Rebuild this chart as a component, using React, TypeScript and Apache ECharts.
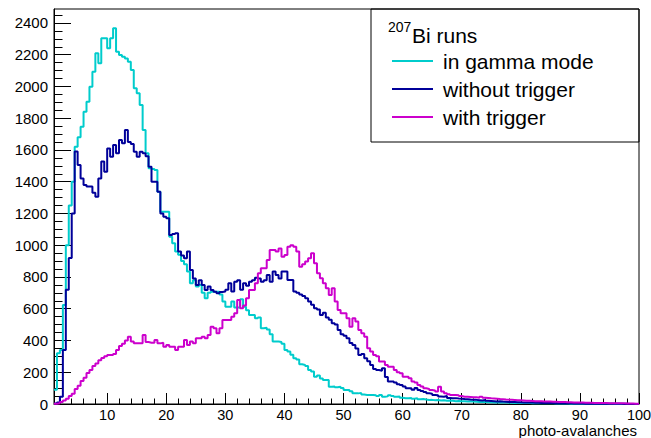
import React, { useEffect, useRef } from "react";
import * as echarts from "echarts";

// Histogram binning (photo-avalanches)
const binStart = 1;
const binWidth = 0.5;

// 207Bi runs, in gamma mode (bins of 0.5 from 1 to 100)
const gammaMode = [
  90, 320, 340, 624, 1000, 1250, 1400, 1620, 1680, 1747,
  1841, 1904, 1999, 2093, 2209, 2146, 2303, 2303, 2240, 2303,
  2366, 2219, 2198, 2188, 2177, 2156, 2104, 1989, 1957, 1883,
  1726, 1579, 1485, 1480, 1474, 1337, 1211, 1211, 1211, 1054,
  1012, 960, 940, 900, 880, 834, 760, 780, 740, 750,
  700, 666, 700, 707, 707, 707, 690, 645, 613, 613,
  645, 608, 608, 660, 613, 590, 561, 561, 540, 545,
  477, 480, 470, 440, 393, 393, 390, 380, 340, 330,
  310, 288, 280, 250, 246, 240, 214, 205, 172, 180,
  160, 151, 151, 109, 110, 105, 109, 100, 88, 88,
  80, 67, 67, 70, 60, 57, 57, 57, 55, 50,
  57, 46, 48, 55, 50, 45, 47, 40, 36, 36,
  38, 33, 36, 30, 32, 28, 25, 26, 24, 25,
  22, 24, 20, 22, 20, 18, 19, 17, 18, 16,
  17, 15, 14, 13, 14, 12, 11, 12, 10, 11,
  9, 10, 9, 8, 8, 7, 8, 7, 6, 7,
  6, 5, 6, 5, 5, 4, 5, 4, 4, 3,
  4, 3, 3, 3, 2, 3, 2, 2, 2, 2,
  1, 2, 1, 1, 1, 1, 1, 1, 1, 0,
  1, 0, 1, 0, 0, 0, 0, 0,
];

// 207Bi runs, without trigger
const withoutTrigger = [
  3, 10, 45, 340, 720, 920, 1200, 1590, 1505, 1420,
  1380, 1370, 1370, 1330, 1306, 1421, 1527, 1463, 1610, 1558,
  1632, 1579, 1663, 1642, 1726, 1650, 1637, 1589, 1558, 1589,
  1579, 1560, 1495, 1400, 1400, 1337, 1200, 1180, 1170, 1065,
  1070, 1075, 960, 935, 918, 960, 844, 790, 750, 780,
  750, 718, 740, 718, 707, 697, 705, 708, 720, 760,
  708, 770, 780, 720, 760, 745, 770, 780, 795, 790,
  770, 780, 813, 770, 834, 813, 790, 834, 834, 781,
  781, 708, 700, 690, 680, 666, 645, 625, 603, 595,
  561, 575, 545, 530, 508, 500, 466, 440, 430, 414,
  385, 372, 350, 309, 315, 288, 270, 246, 220, 214,
  210, 225, 170, 141, 141, 135, 125, 120, 110, 99,
  99, 90, 100, 88, 82, 75, 67, 65, 57, 55,
  47, 46, 50, 38, 36, 37, 34, 33, 31, 30,
  28, 27, 26, 24, 22, 25, 20, 19, 18, 16,
  17, 15, 14, 13, 12, 12, 11, 11, 10, 10,
  9, 9, 8, 8, 7, 7, 6, 6, 6, 5,
  5, 5, 4, 4, 4, 3, 3, 3, 3, 2,
  2, 2, 2, 2, 1, 1, 1, 1, 1, 1,
  1, 1, 0, 1, 0, 0, 0, 0,
];

// 207Bi runs, with trigger
const withTrigger = [
  2, 5, 12, 22, 33, 50, 65, 95, 115, 145,
  165, 195, 214, 240, 255, 275, 290, 300, 309, 309,
  315, 340, 365, 380, 400, 424, 393, 382, 382, 382,
  435, 390, 386, 386, 403, 382, 386, 361, 372, 361,
  361, 340, 361, 361, 403, 372, 393, 382, 414, 414,
  424, 414, 435, 487, 477, 445, 477, 529, 529, 529,
  550, 571, 655, 603, 620, 666, 718, 718, 760, 823,
  855, 855, 907, 970, 970, 960, 980, 928, 939, 991,
  1000, 991, 960, 865, 880, 897, 918, 949, 886, 823,
  792, 760, 729, 687, 729, 645, 592, 571, 571, 540,
  487, 540, 519, 466, 445, 424, 351, 330, 309, 300,
  267, 267, 246, 235, 235, 214, 200, 193, 172, 172,
  162, 141, 135, 120, 110, 99, 95, 88, 85, 78,
  109, 78, 67, 62, 57, 57, 55, 50, 46, 46,
  44, 42, 42, 40, 46, 40, 38, 36, 35, 33,
  31, 30, 28, 27, 26, 25, 24, 23, 22, 21,
  20, 19, 18, 18, 17, 16, 15, 15, 14, 14,
  13, 12, 12, 11, 11, 10, 10, 9, 9, 8,
  8, 8, 7, 7, 6, 6, 6, 5, 5, 5,
  4, 4, 4, 3, 3, 3, 2, 2,
];

const seriesNames = ["in gamma mode", "without trigger", "with trigger"];
const seriesColors = ["#00CCCC", "#000099", "#CC00CC"];

const xTickLabels = [10, 20, 30, 40, 50, 60, 70, 80, 90, 100];
const yTickLabels = [0, 200, 400, 600, 800, 1000, 1200, 1400, 1600, 1800, 2000, 2200, 2400];
const xMin = 1;
const xMax = 100;
const yMin = 0;
const yMax = 2488;

const xMinorTicks: number[] = [];
for (let v = 2; v < xMax; v += 2) if (v % 10 !== 0) xMinorTicks.push(v);
const yMinorTicks: number[] = [];
for (let v = 50; v < yMax; v += 50) if (v % 200 !== 0) yMinorTicks.push(v);

const FONT = "'Liberation Sans', Arial, Helvetica, sans-serif";

function toSteps(values: number[]) {
  const pts: number[][] = values.map((v, i) => [binStart + i * binWidth, v]);
  pts.push([binStart + values.length * binWidth, values[values.length - 1]]);
  return pts;
}

const plain = (v: number) => String(v);

export default function App() {
  const ref = useRef<HTMLDivElement>(null);
  useEffect(() => {
    if (!ref.current) return;
    const chart = echarts.init(ref.current, undefined, { renderer: "svg" });
    const datasets = [gammaMode, withoutTrigger, withTrigger];
    const legendX0 = 392;
    const legendX1 = 433;
    const legendTextX = 443;
    const legendRows = [61, 89, 117];
    const legendGraphics: any[] = [];
    seriesNames.forEach((name, i) => {
      legendGraphics.push({
        type: "line",
        shape: { x1: legendX0, y1: legendRows[i], x2: legendX1, y2: legendRows[i] },
        style: { stroke: seriesColors[i], lineWidth: 2 },
        z: 10,
      });
      legendGraphics.push({
        type: "text",
        x: legendTextX,
        y: legendRows[i],
        style: {
          text: name,
          fontSize: 21,
          fontFamily: FONT,
          fill: "#000",
          textAlign: "left",
          textVerticalAlign: "middle",
        },
        z: 10,
      });
    });
    chart.setOption({
      animation: false,
      backgroundColor: "#ffffff",
      textStyle: { fontFamily: FONT },
      grid: {
        left: 54,
        right: 12,
        top: 9,
        bottom: 34,
        show: true,
        borderColor: "#000",
        borderWidth: 1,
        containLabel: false,
        outerBoundsMode: "none",
      },
      xAxis: [
        {
          type: "value",
          min: xMin,
          max: xMax,
          position: "bottom",
          axisLine: { show: true, onZero: false, lineStyle: { color: "#000", width: 1 } },
          axisTick: { show: true, inside: true, length: 11, customValues: xTickLabels, lineStyle: { color: "#000", width: 1 } },
          axisLabel: { show: true, customValues: xTickLabels, formatter: plain, margin: 3, fontSize: 14.5, color: "#000", fontFamily: FONT },
          splitLine: { show: false },
        },
        {
          type: "value",
          min: xMin,
          max: xMax,
          position: "bottom",
          axisLine: { show: false },
          axisTick: { show: true, inside: true, length: 5.5, customValues: xMinorTicks, lineStyle: { color: "#000", width: 1 } },
          axisLabel: { show: false },
          splitLine: { show: false },
        },
      ],
      yAxis: [
        {
          type: "value",
          min: yMin,
          max: yMax,
          position: "left",
          axisLine: { show: true, onZero: false, lineStyle: { color: "#000", width: 1 } },
          axisTick: { show: true, inside: true, length: 17, customValues: yTickLabels, lineStyle: { color: "#000", width: 1 } },
          axisLabel: { show: true, customValues: yTickLabels, formatter: plain, margin: 6, fontSize: 15, color: "#000", fontFamily: FONT },
          splitLine: { show: false },
        },
        {
          type: "value",
          min: yMin,
          max: yMax,
          position: "left",
          axisLine: { show: false },
          axisTick: { show: true, inside: true, length: 8.5, customValues: yMinorTicks, lineStyle: { color: "#000", width: 1 } },
          axisLabel: { show: false },
          splitLine: { show: false },
        },
      ],
      series: datasets.map((vals, i) => ({
        name: seriesNames[i],
        type: "line",
        step: "end",
        xAxisIndex: 0,
        yAxisIndex: 0,
        data: toSteps(vals),
        symbol: "none",
        showSymbol: false,
        clip: true,
        lineStyle: { color: seriesColors[i], width: 2 },
        itemStyle: { color: seriesColors[i] },
        z: 2 + i,
      })),
      graphic: [
        {
          type: "rect",
          shape: { x: 371, y: 9, width: 268, height: 133 },
          style: { fill: "none", stroke: "#000", lineWidth: 1 },
          z: 9,
        },
        {
          type: "text",
          x: 388,
          y: 27,
          style: { text: "207", fontSize: 14, fontFamily: FONT, fill: "#000", textAlign: "left", textVerticalAlign: "middle" },
          z: 10,
        },
        {
          type: "text",
          x: 412,
          y: 35,
          style: { text: "Bi runs", fontSize: 21, fontFamily: FONT, fill: "#000", textAlign: "left", textVerticalAlign: "middle" },
          z: 10,
        },
        ...legendGraphics,
        {
          type: "text",
          x: 637,
          y: 430,
          style: { text: "photo-avalanches", fontSize: 15, fontFamily: FONT, fill: "#000", textAlign: "right", textVerticalAlign: "middle" },
          z: 10,
        },
      ],
    });
    return () => chart.dispose();
  }, []);
  return (
    <div
      ref={ref}
      style={{ position: "absolute", left: 0, top: 0, width: 651, height: 438 }}
    />
  );
}
